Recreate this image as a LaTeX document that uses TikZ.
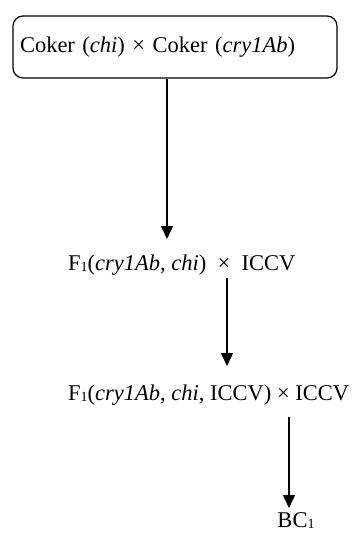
\documentclass[tikz,border=0pt]{standalone}
\usepackage{fontspec}
\setmainfont{Liberation Serif}
\usetikzlibrary{arrows.meta}
\newcommand\mysub[1]{\raisebox{-1pt}{\fontsize{14}{14}\selectfont #1}}
\begin{document}
\begin{tikzpicture}[x=1pt,y=-1pt,
  every node/.style={font=\fontsize{22.5}{27}\selectfont, inner sep=0pt},
  conn/.style={line width=1.5pt,-{Triangle[length=13pt,width=12pt]}},
  boxstyle/.style={draw, line width=1.2pt, rounded corners=10pt, minimum width=324pt, minimum height=62pt, text width=310pt, align=left}]
\useasboundingbox (0,0) rectangle (355,533);
\node[boxstyle] (box) at (175,47) {Coker (\textit{chi}) × Coker (\textit{cry1Ab})};
\node[anchor=west] (f1) at (68,265) {F\mysub{1}(\textit{cry1Ab}, \textit{chi})\ \ ×\ \ ICCV};
\node[anchor=west] (f2) at (68,395) {F\mysub{1}(\textit{cry1Ab}, \textit{chi}, ICCV) × ICCV};
\node (bc) at (296,521) {BC\mysub{1}};
\coordinate (t1) at (167,239);
\coordinate (t2) at (227,366);
\coordinate (t3) at (289,508);
\draw[conn] (box.south -| t1) -- (t1);
\draw[conn, shorten <=3pt] (f1.south -| t2) -- (t2);
\draw[conn, shorten <=12pt] (f2.south -| t3) -- (t3);
\end{tikzpicture}
\end{document}
